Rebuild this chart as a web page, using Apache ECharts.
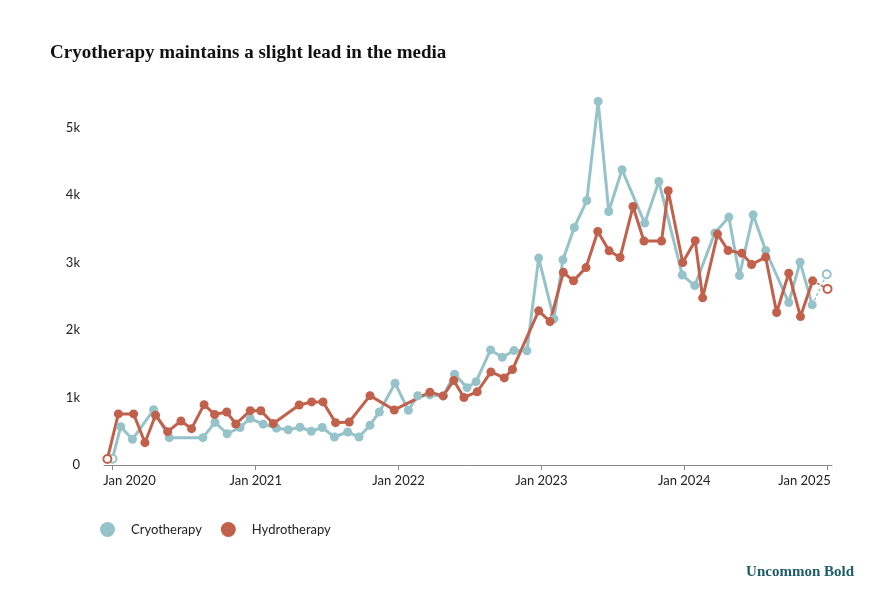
<!DOCTYPE html>
<html>
<head>
<meta charset="utf-8">
<script src="https://cdn.jsdelivr.net/npm/echarts@6/dist/echarts.min.js"></script>
<style>
  html, body { margin: 0; padding: 0; background: #fff; }
  #chart { width: 886px; height: 606px; }
</style>
</head>
<body>
<div id="chart"></div>
<script>
const cryoDates = ['2020-01-01','2020-01-22','2020-02-21','2020-04-15','2020-05-25','2020-08-19','2020-09-19','2020-10-20','2020-11-22','2020-12-18',
  '2021-01-20','2021-02-23','2021-03-25','2021-04-24','2021-05-23','2021-06-20','2021-07-21','2021-08-24','2021-09-22','2021-10-20','2021-11-13','2021-12-23',
  '2022-01-26','2022-02-19','2022-03-22','2022-04-25','2022-05-24','2022-06-25','2022-07-18','2022-08-24','2022-09-23','2022-10-23','2022-11-25','2022-12-25',
  '2023-02-02','2023-02-25','2023-03-26','2023-04-27','2023-05-26','2023-06-22','2023-07-26','2023-09-22','2023-10-28','2023-12-27',
  '2024-01-28','2024-03-19','2024-04-24','2024-05-21','2024-06-25','2024-07-27','2024-09-24','2024-10-23','2024-11-23','2024-12-30'];
const cryoValues = [93,568,381,819,405,405,631,463,556,690,
  605,546,522,559,501,556,415,490,415,590,786,1212,
  812,1027,1039,1024,1346,1147,1236,1706,1598,1696,1693,3067,
  2166,3042,3521,3921,5390,3758,4377,3586,4203,2816,
  2660,3438,3675,2809,3709,3180,2408,3007,2374,2829];

const hydroDates = ['2019-12-19','2020-01-16','2020-02-24','2020-03-24','2020-04-20','2020-05-21','2020-06-24','2020-07-21','2020-08-22','2020-09-18','2020-10-19','2020-11-11','2020-12-18',
  '2021-01-14','2021-02-15','2021-04-22','2021-05-24','2021-06-22','2021-07-24','2021-08-28','2021-10-20','2021-12-21',
  '2022-03-22','2022-04-25','2022-05-22','2022-06-17','2022-07-21','2022-08-25','2022-09-28','2022-10-19','2022-12-25',
  '2023-01-23','2023-02-26','2023-03-24','2023-04-25','2023-05-25','2023-06-23','2023-07-21','2023-08-23','2023-09-20','2023-11-04','2023-11-21','2023-12-28',
  '2024-01-29','2024-02-17','2024-03-26','2024-04-22','2024-05-27','2024-06-21','2024-07-27','2024-08-24','2024-09-24','2024-10-24','2024-11-24','2025-01-01'];
const hydroValues = [90,757,757,331,737,494,653,539,895,749,786,608,806,
  804,614,890,935,935,628,638,1028,816,
  1079,1024,1254,1001,1085,1380,1291,1415,2285,
  2126,2856,2730,2927,3461,3175,3076,3832,3320,3320,4065,3001,
  3326,2478,3423,3180,3141,2972,3082,2260,2844,2200,2730,2611];

const seriesNames = ['Cryotherapy', 'Hydrotherapy'];
const xTickYears = [2020, 2021, 2022, 2023, 2024, 2025];
const yTickValues = [0, 1000, 2000, 3000, 4000, 5000];

const CRYO = '#96c3c9';
const HYDRO = '#c1604b';
const FONT = 'Lato, "Open Sans", sans-serif';

function buildSeries(name, dates, values, color) {
  const n = dates.length;
  const hollow = (i) => ({
    value: [dates[i], values[i]],
    symbolSize: 8,
    itemStyle: { color: '#fff', borderColor: color, borderWidth: 2 }
  });
  const main = [];
  for (let i = 0; i < n - 1; i++) {
    main.push(i === 0 ? hollow(i) : { value: [dates[i], values[i]] });
  }
  const tail = [
    { value: [dates[n - 2], values[n - 2]], symbol: 'none' },
    hollow(n - 1)
  ];
  return [
    {
      name: name, type: 'line', data: main,
      symbol: 'circle', symbolSize: 9, showSymbol: true,
      lineStyle: { color: color, width: 3 },
      itemStyle: { color: color },
      emphasis: { disabled: true },
      animation: false
    },
    {
      name: name + ' (partial)', type: 'line', data: tail,
      symbol: 'circle', symbolSize: 8,
      lineStyle: { color: color, width: 1.5, type: [3, 2] },
      itemStyle: { color: color },
      emphasis: { disabled: true },
      animation: false
    }
  ];
}

const labelBase = { fontFamily: FONT, fontSize: 13, color: '#222' };

const chart = echarts.init(document.getElementById('chart'), null, { renderer: 'canvas' });
chart.setOption({
  backgroundColor: '#fff',
  animation: false,
  title: {
    text: 'Cryotherapy maintains a slight lead in the media',
    left: 45, top: 39,
    textStyle: { fontFamily: '"Liberation Serif", serif', fontWeight: 'bold', fontSize: 19, color: '#111' }
  },
  graphic: [{
    type: 'text', right: 32, top: 565,
    style: { text: 'Uncommon Bold', fontFamily: '"Liberation Serif", serif', fontWeight: 'bold', fontSize: 15, fill: '#1d5c68' }
  }],
  legend: {
    data: seriesNames,
    left: 95, top: 517,
    icon: 'circle', itemWidth: 15, itemHeight: 15, itemGap: 19,
    textStyle: { fontFamily: FONT, fontSize: 13, color: '#222', padding: [0, 0, 0, 11] },
    selectedMode: false
  },
  grid: { left: 104, right: 54, top: 94, bottom: 141, containLabel: false },
  xAxis: {
    type: 'time',
    min: '2019-12-10 08:00',
    max: '2025-01-12 12:00',
    minInterval: 360 * 86400000,
    maxInterval: 370 * 86400000,
    axisLine: { show: true, lineStyle: { color: '#8a8a8a', width: 1 } },
    axisTick: { show: true, length: 5, lineStyle: { color: '#8a8a8a' } },
    splitLine: { show: false },
    axisLabel: Object.assign({}, labelBase, {
      margin: 9,
      formatter: function (val) {
        const d = new Date(val);
        const y = d.getFullYear();
        if (d.getMonth() === 0 && d.getDate() === 1 && xTickYears.indexOf(y) >= 0) {
          const txt = 'Jan ' + y;
          if (y === xTickYears[0]) return '{first|' + txt + '}';
          if (y === xTickYears[xTickYears.length - 1]) return '{last|' + txt + '}';
          return txt;
        }
        return '';
      },
      rich: {
        first: Object.assign({}, labelBase, { padding: [0, 0, 0, 34] }),
        last: Object.assign({}, labelBase, { padding: [0, 46, 0, 0] })
      }
    })
  },
  yAxis: {
    type: 'value',
    min: 0, max: 5500, interval: 1000,
    axisLine: { show: false },
    axisTick: { show: false },
    splitLine: { show: false },
    axisLabel: Object.assign({}, labelBase, {
      margin: 24,
      formatter: function (v) {
        if (yTickValues.indexOf(v) < 0) return '';
        return v === 0 ? '0' : (v / 1000) + 'k';
      }
    })
  },
  series: [].concat(
    buildSeries(seriesNames[0], cryoDates, cryoValues, CRYO),
    buildSeries(seriesNames[1], hydroDates, hydroValues, HYDRO)
  )
});
</script>
</body>
</html>
